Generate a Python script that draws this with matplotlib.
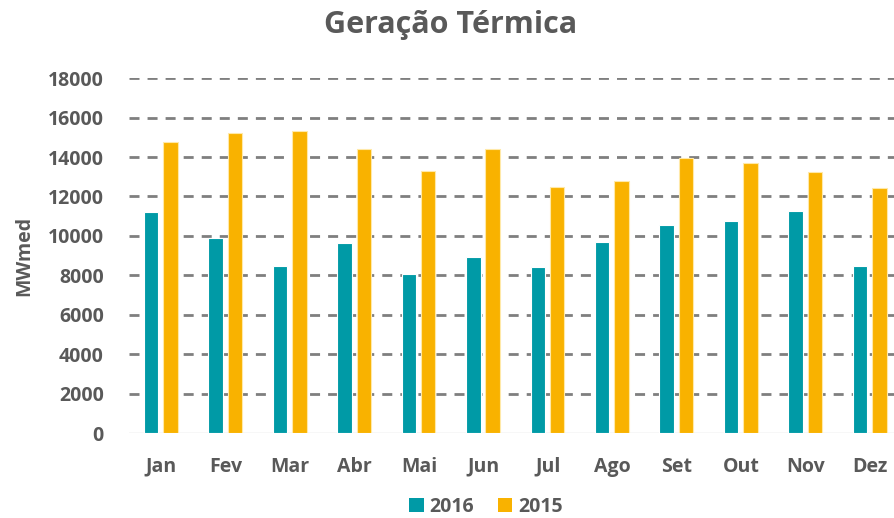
import matplotlib
matplotlib.use("Agg")
import matplotlib.pyplot as plt
import numpy as np
from matplotlib.patches import Patch

months = ["Jan", "Fev", "Mar", "Abr", "Mai", "Jun", "Jul", "Ago", "Set", "Out", "Nov", "Dez"]
values_2016 = [11200, 9900, 8470, 9650, 8080, 8920, 8420, 9700, 10550, 10750, 11270, 8470]
values_2015 = [14780, 15230, 15300, 14400, 13270, 14400, 12500, 12800, 13950, 13680, 13220, 12440]
yticks = [0, 2000, 4000, 6000, 8000, 10000, 12000, 14000, 16000, 18000]

plt.rcParams['font.family'] = ['Open Sans', 'DejaVu Sans']
gray = '#595959'
teal = '#009AA6'
orange = '#F9B200'

fig = plt.figure(figsize=(8.95, 5.18), dpi=100)
ax = fig.add_axes([0.144, 0.164, 0.864, 0.685])

x = np.arange(len(months))
w = 0.225
ax.bar(x - 0.155, values_2016, width=w, color=teal, edgecolor='white', linewidth=0.8, zorder=3)
ax.bar(x + 0.145, values_2015, width=w, color=orange, edgecolor='#FFE9A8', linewidth=0.8, zorder=3)

ax.set_xlim(-0.5, 11.5)
ax.set_ylim(0, 18000)
ax.set_yticks(yticks)
ax.set_yticklabels([str(v) for v in yticks])
ax.set_xticks(x)
ax.set_xticklabels(months)

for v in yticks[1:]:
    ax.axhline(v, color='#7F7F7F', linewidth=2.0, linestyle=(0, (3.6, 2.9)), zorder=1)
ax.axhline(0, color='#D9D9D9', linewidth=1.0, zorder=2)

for s in ax.spines.values():
    s.set_visible(False)
ax.tick_params(axis='both', length=0, colors=gray, labelsize=14)
ax.tick_params(axis='y', pad=18)
ax.tick_params(axis='x', pad=17)
for lab in ax.get_xticklabels() + ax.get_yticklabels():
    lab.set_fontweight('bold')
    lab.set_color(gray)

ax.set_ylabel("MWmed", fontsize=14, fontweight='bold', color=gray, labelpad=10)
fig.text(0.503, 0.952, "Geração Térmica", ha='center', va='center', fontsize=22,
         fontweight='bold', color=gray)

handles = [Patch(facecolor=teal, label='2016'), Patch(facecolor=orange, label='2015')]
leg = fig.legend(handles=handles, loc='center', bbox_to_anchor=(0.543, 0.022), ncol=2,
                 frameon=False, handlelength=0.75, handleheight=0.75, handletextpad=0.3,
                 columnspacing=1.2, prop={'size': 14, 'weight': 'bold'})
for t in leg.get_texts():
    t.set_color(gray)

fig.savefig("out.png", dpi=100)
